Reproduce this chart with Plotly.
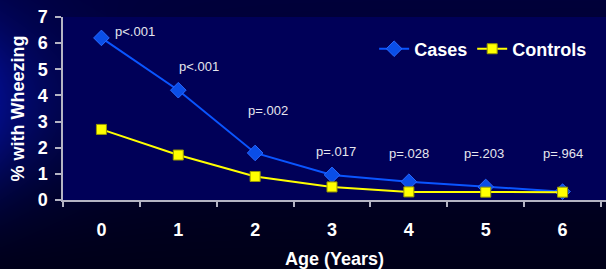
import numpy as np, zlib, struct, base64
import plotly.graph_objects as go

# ---- data ----
ages = ["0", "1", "2", "3", "4", "5", "6"]
cases = [6.2, 4.2, 1.8, 0.96, 0.7, 0.5, 0.32]
controls = [2.7, 1.72, 0.9, 0.5, 0.31, 0.3, 0.3]
p_labels = ["p<.001", "p<.001", "p=.002", "p=.017", "p=.028", "p=.203", "p=.964"]
p_x = [0.44, 1.27, 2.17, 3.05, 4.0, 4.98, 6.01]
p_y = [6.43, 5.09, 3.44, 1.84, 1.76, 1.76, 1.76]

W, H = 606, 269
ML, MR, MT, MB = 63, 0, 17, 69

# ---- gradient background image ----
def png_uri(arr):
    h, w, _ = arr.shape
    raw = b"".join(b"\x00" + arr[i].tobytes() for i in range(h))
    def chunk(t, d):
        c = struct.pack(">I", len(d)) + t + d
        return c + struct.pack(">I", zlib.crc32(t + d) & 0xffffffff)
    png = (b"\x89PNG\r\n\x1a\n"
           + chunk(b"IHDR", struct.pack(">IIBBBBB", w, h, 8, 2, 0, 0, 0))
           + chunk(b"IDAT", zlib.compress(raw, 9))
           + chunk(b"IEND", b""))
    return "data:image/png;base64," + base64.b64encode(png).decode()

yy, xx = np.mgrid[0:H, 0:W].astype(float)
base = 58 - 34 * (yy / H)
glow = np.exp(-((yy - 105) / 90) ** 2) * np.exp(-(xx / 70))
B = np.clip(base + 85 * glow, 0, 255)
G = np.clip(12 * glow, 0, 255)
R = np.clip(3 * glow, 0, 255)
img = np.stack([R, G, B], axis=-1).astype(np.uint8)

fig = go.Figure()
fig.add_trace(go.Scatter(
    x=ages, y=cases, name="Cases", mode="lines+markers",
    line=dict(color="#0a55ff", width=2),
    marker=dict(symbol="diamond", size=12, color="#0a4ee8",
                line=dict(color="#2a6aff", width=1)),
))
fig.add_trace(go.Scatter(
    x=ages, y=controls, name="Controls", mode="lines+markers",
    line=dict(color="#ffff00", width=2),
    marker=dict(symbol="square", size=10, color="#ffff00",
                line=dict(color="#9a9a00", width=1)),
))

for lab, px, py in zip(p_labels, p_x, p_y):
    fig.add_annotation(x=px, y=py, xref="x", yref="y", text=lab, showarrow=False,
                       font=dict(family="Liberation Sans, Arial", size=13, color="#e6e6ee"))

fig.add_layout_image(dict(source=png_uri(img), xref="paper", yref="paper",
                          x=-ML / (W - ML - MR), y=1 + MT / (H - MT - MB),
                          sizex=W / (W - ML - MR), sizey=H / (H - MT - MB),
                          sizing="stretch", xanchor="left", yanchor="top", layer="below"))
fig.add_shape(type="rect", xref="x domain", yref="y domain", x0=0, x1=1, y0=0, y1=1,
              fillcolor="#000058", line=dict(width=0), layer="below")

axis_font = dict(family="Liberation Sans, Arial", size=18, color="white", weight="bold")
fig.update_layout(
    width=W, height=H,
    margin=dict(l=ML, r=MR, t=MT, b=MB, autoexpand=False),
    paper_bgcolor="#000030", plot_bgcolor="rgba(0,0,0,0)",
    showlegend=True,
    legend=dict(orientation="h", x=0.573, y=0.825, xanchor="left", yanchor="middle",
                bgcolor="rgba(0,0,0,0)", font=axis_font, itemwidth=30,
                tracegroupgap=0),
    xaxis=dict(type="category", range=[-0.5, 6.565], tickson="boundaries", automargin=False,
               ticks="outside", ticklen=5, tickcolor="#b4b4c4", tickwidth=1.5,
               showline=True, linecolor="#b4b4c4", linewidth=1.5, showgrid=False,
               zeroline=False, tickfont=axis_font, ticklabelstandoff=13,
               title=dict(text="Age (Years)", font=axis_font, standoff=16)),
    yaxis=dict(range=[0, 7], dtick=1, ticks="outside", ticklen=6, automargin=False,
               tickcolor="#b4b4c4", tickwidth=1.5, showline=True,
               linecolor="#b4b4c4", linewidth=1.5, showgrid=False, zeroline=False,
               tickfont=axis_font, ticklabelstandoff=4,
               title=dict(text="% with Wheezing", font=axis_font, standoff=8)),
)

fig.write_html("out.html", config={"displayModeBar": False},
               post_script="document.body.style.margin='0px';")
